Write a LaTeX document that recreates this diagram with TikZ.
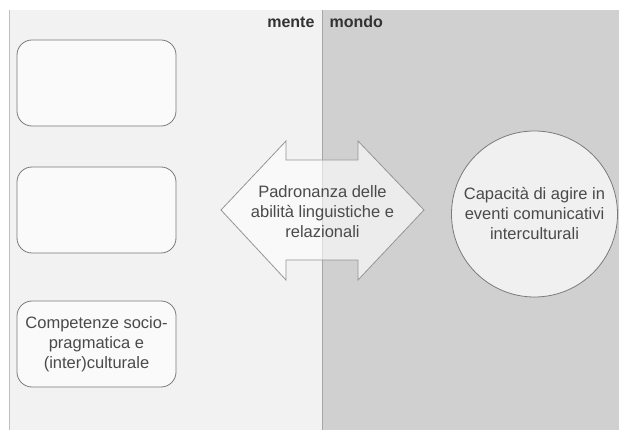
\documentclass[tikz,border=0pt]{standalone}
\usepackage{fontspec}
\setmainfont{Liberation Sans}
\definecolor{mentebg}{HTML}{F2F2F2}
\definecolor{mondobg}{HTML}{D0D0D0}
\definecolor{bordo}{HTML}{7A7A7A}
\definecolor{testo}{HTML}{4A4A4A}
\tikzset{
	casella/.style={draw=bordo, fill=white!60!mentebg, line width=0.8pt,
		rounded corners=15pt, minimum width=159pt, minimum height=86pt,
		align=center, text=testo, font=\fontsize{16.5}{20}\selectfont},
	etichetta/.style={text=black!80, font=\bfseries\fontsize{16}{18}\selectfont},
}
\begin{document}
\begin{tikzpicture}[x=1pt,y=-1pt]
	\useasboundingbox (0,0) rectangle (619,430);
	\fill[white] (0,0) rectangle (619,430);

	% sfondo mente / mondo
	\fill[mentebg] (9,10) rectangle (322,430);
	\fill[mondobg] (322,10) rectangle (619,430);
	\draw[black!25, line width=0.8pt] (9,10) -- (9,430);
	\draw[black!35, line width=0.8pt] (322,10) -- (322,430);

	\node[etichetta, anchor=base east] (mente) at (318,28) {mente};
	\node[etichetta, anchor=base west] (mondo) at (326,28) {mondo};

	\node[casella] (vuota1) at (96.5,83) {};
	\node[casella] (vuota2) at (96.5,210) {};
	\node[casella] (competenze) at (96.5,344) {Competenze socio-\\pragmatica e\\(inter)culturale};

	\draw[bordo!80, line width=0.8pt, fill=white, fill opacity=0.6]
		(221,210) -- (286,141) -- (286,160) -- (358,160) -- (358,141)
		-- (424,210) -- (358,280) -- (358,260) -- (286,260) -- (286,280) -- cycle;
	\node[align=center, text=testo, font=\fontsize{16.5}{20}\selectfont] (padronanza) at (322.5,212)
		{Padronanza delle\\abilità linguistiche e\\relazionali};

	\node[circle, draw=bordo, fill=black!6, line width=0.8pt, minimum size=166pt,
		align=center, text=testo, font=\fontsize{16.5}{20}\selectfont] (capacita) at (534.5,214)
		{Capacità di agire in\\eventi comunicativi\\interculturali};
\end{tikzpicture}
\end{document}
